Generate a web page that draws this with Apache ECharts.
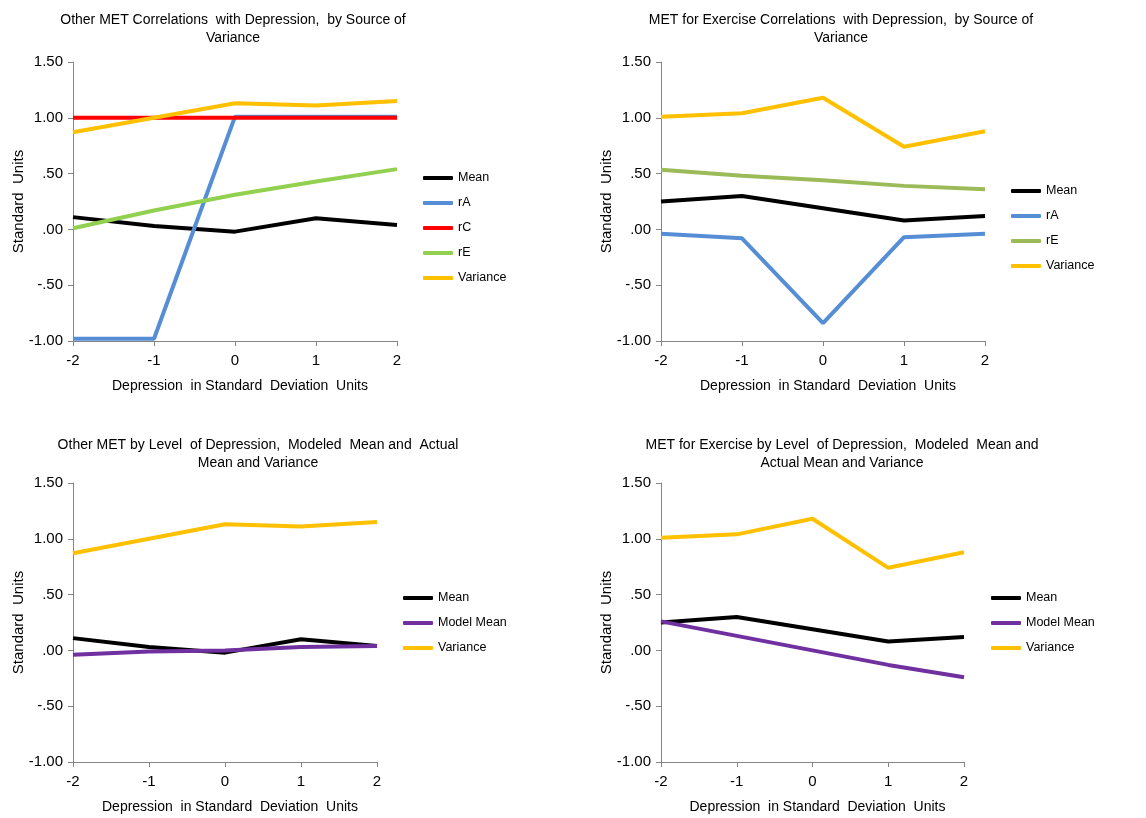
<!DOCTYPE html>
<html>
<head>
<meta charset="utf-8">
<script src="https://cdn.jsdelivr.net/npm/echarts@6/dist/echarts.min.js"></script>
<style>
  html, body { margin: 0; padding: 0; background: #fff; }
  .p { position: absolute; }
</style>
</head>
<body>
<div id="c1" class="p" style="left:0;top:0;width:573px;height:410px"></div>
<div id="c2" class="p" style="left:573px;top:0;width:573px;height:410px"></div>
<div id="c3" class="p" style="left:0;top:421px;width:573px;height:397px"></div>
<div id="c4" class="p" style="left:573px;top:421px;width:573px;height:397px"></div>
<script>
// ---- data ----
const depressionSD = [-2, -1, 0, 1, 2];
const yTicks = { min: -1, max: 1.5, interval: 0.5 };

const titles = [
  "Other MET Correlations  with Depression,  by Source of\nVariance",
  "MET for Exercise Correlations  with Depression,  by Source of\nVariance",
  "Other MET by Level  of Depression,  Modeled  Mean and  Actual\nMean and Variance",
  "MET for Exercise by Level  of Depression,  Modeled  Mean and\nActual Mean and Variance"
];
const xAxisTitle = "Depression  in Standard  Deviation  Units";
const yAxisTitle = "Standard  Units";

// Panel 1 / 3: Other MET
const otherMean      = [0.11, 0.03, -0.02, 0.10, 0.04];
const otherRA        = [-0.98, -0.98, 1.01, 1.01, 1.01];
const otherRC        = [1.00, 1.00, 1.00, 1.00, 1.00];
const otherRE        = [0.01, 0.17, 0.31, 0.43, 0.54];
const otherVariance  = [0.87, 1.00, 1.13, 1.11, 1.15];
const otherModelMean = [-0.04, -0.01, 0.00, 0.03, 0.04];

// Panel 2 / 4: MET for Exercise
const exMean      = [0.25, 0.30, 0.19, 0.08, 0.12];
const exRA        = [-0.04, -0.08, -0.84, -0.07, -0.04];
const exRE        = [0.535, 0.48, 0.44, 0.39, 0.36];
const exVariance  = [1.01, 1.04, 1.18, 0.74, 0.88];
const exModelMean = [0.26, 0.13, 0.00, -0.13, -0.24];

// ---- styling ----
const C = {
  black: '#000000', blue: '#558ed5', red: '#ff0000',
  green1: '#92d050', green2: '#9bbb59', yellow: '#ffc000', purple: '#7030a0'
};
const FONT = "'Liberation Sans', Arial, sans-serif";
const axisGray = '#868686';

function pts(vals) { return depressionSD.map((x, i) => [x, vals[i]]); }
function fmtY(v) {
  return v.toFixed(2).replace(/^(-?)0\./, '$1.');
}

function makeOption(cfg) {
  return {
    animation: false,
    textStyle: { fontFamily: FONT },
    graphic: [{
      type: 'text',
      x: cfg.titleX, y: cfg.titleY,
      style: {
        text: cfg.title, fill: '#000', font: '14px ' + FONT,
        textAlign: 'center', textVerticalAlign: 'top', lineHeight: 18
      }
    }],
    legend: {
      orient: 'vertical', left: cfg.legendX - 5, top: cfg.legendY - 5,
      icon: 'roundRect', itemWidth: 30, itemHeight: 4, itemGap: 11,
      selectedMode: false,
      textStyle: { fontFamily: FONT, fontSize: 12.5, color: '#000', lineHeight: 14 },
      data: cfg.series.map(s => s.name)
    },
    grid: { left: cfg.gridLeft, width: cfg.gridWidth, top: 62, height: 279,
            containLabel: false, outerBoundsMode: 'none' },
    xAxis: {
      type: 'value', min: -2, max: 2, interval: 1,
      name: xAxisTitle, nameLocation: 'middle', nameGap: 38, nameMoveOverlap: false,
      nameTextStyle: { fontFamily: FONT, fontSize: 14, color: '#000', padding: [0, 0, 0, 10] },
      axisLine: { onZero: false, lineStyle: { color: axisGray, width: 1 } },
      axisTick: { show: true, length: 5, lineStyle: { color: axisGray } },
      axisLabel: { fontFamily: FONT, fontSize: 15, color: '#000', margin: 12 },
      splitLine: { show: false }
    },
    yAxis: {
      type: 'value', min: yTicks.min, max: yTicks.max, interval: yTicks.interval,
      name: yAxisTitle, nameLocation: 'middle', nameGap: 47, nameMoveOverlap: false,
      nameTextStyle: { fontFamily: FONT, fontSize: 15, color: '#000' },
      axisLine: { show: true, onZero: false, lineStyle: { color: axisGray, width: 1 } },
      axisTick: { show: true, length: 5, lineStyle: { color: axisGray } },
      axisLabel: { fontFamily: FONT, fontSize: 15, color: '#000', margin: 10, formatter: fmtY },
      splitLine: { show: false }
    },
    series: cfg.series.map(s => ({
      type: 'line', name: s.name, data: pts(s.data),
      symbol: 'none', lineStyle: { color: s.color, width: 4 },
      itemStyle: { color: s.color }
    }))
  };
}

const cfgs = [
  { id: 'c1', title: titles[0], titleX: 233, titleY: 11, gridLeft: 73, gridWidth: 324, legendX: 423, legendY: 171,
    series: [
      { name: 'Mean', data: otherMean, color: C.black },
      { name: 'rA', data: otherRA, color: C.blue },
      { name: 'rC', data: otherRC, color: C.red },
      { name: 'rE', data: otherRE, color: C.green1 },
      { name: 'Variance', data: otherVariance, color: C.yellow }
    ] },
  { id: 'c2', title: titles[1], titleX: 268, titleY: 11, gridLeft: 88, gridWidth: 324, legendX: 438, legendY: 184,
    series: [
      { name: 'Mean', data: exMean, color: C.black },
      { name: 'rA', data: exRA, color: C.blue },
      { name: 'rE', data: exRE, color: C.green2 },
      { name: 'Variance', data: exVariance, color: C.yellow }
    ] },
  { id: 'c3', title: titles[2], titleX: 258, titleY: 15, gridLeft: 73, gridWidth: 304, legendX: 403, legendY: 170,
    series: [
      { name: 'Mean', data: otherMean, color: C.black },
      { name: 'Model Mean', data: otherModelMean, color: C.purple },
      { name: 'Variance', data: otherVariance, color: C.yellow }
    ] },
  { id: 'c4', title: titles[3], titleX: 269, titleY: 15, gridLeft: 88, gridWidth: 303, legendX: 418, legendY: 170,
    series: [
      { name: 'Mean', data: exMean, color: C.black },
      { name: 'Model Mean', data: exModelMean, color: C.purple },
      { name: 'Variance', data: exVariance, color: C.yellow }
    ] }
];

cfgs.forEach(cfg => {
  const chart = echarts.init(document.getElementById(cfg.id), null, { renderer: 'canvas' });
  chart.setOption(makeOption(cfg));
});
</script>
</body>
</html>
